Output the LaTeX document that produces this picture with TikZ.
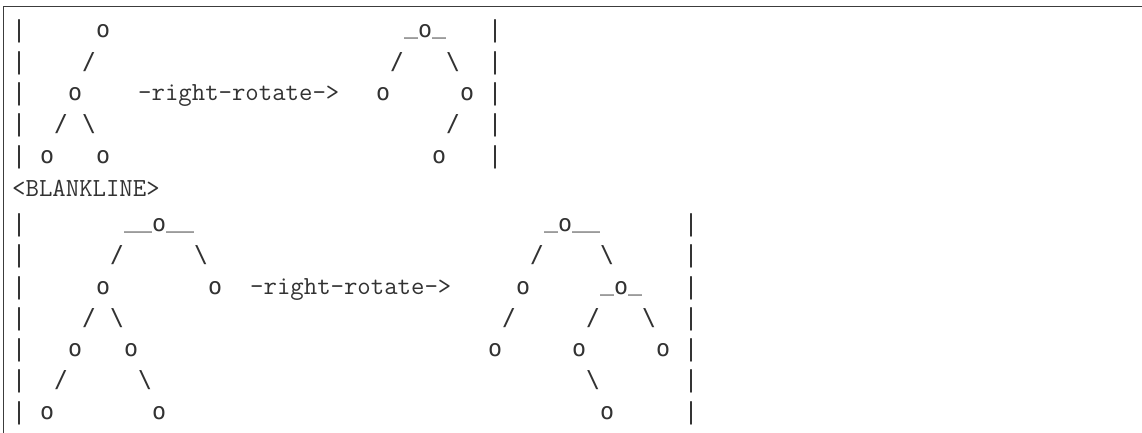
\documentclass[tikz,border=0pt]{standalone}
\usepackage{fontspec}
\newfontfamily\artfont{DejaVu Sans Mono}
\definecolor{ink}{RGB}{50,50,50}
\definecolor{framec}{RGB}{60,60,60}
\tikzset{
  art/.style={inner sep=0pt, outer sep=0pt, anchor=base, text=ink, font=\artfont\fontsize{23.26}{28}\selectfont},
  words/.style={inner sep=0pt, outer sep=0pt, anchor=base west, text=ink, font=\ttfamily\fontsize{26.04}{30}\selectfont},
  frameline/.style={draw=framec, line width=1.6pt}
}
\newcommand\rowy[1]{\pgfmathsetmacro\yy{(#1<6) ? (38+31.25*(#1-1)) : (294.2+31.25*(#1-9))}}
\begin{document}
\begin{tikzpicture}[x=1pt,y=-1pt]
\useasboundingbox (0,0) rectangle (1142,433);
\fill[white] (0,0) rectangle (1142,433);
% frame (top and left edges of the box)
\draw[frameline] (1142,6.7) -- (3.5,6.7) -- (3.5,433);
% vertical bars
\foreach \r/\c in {1/0,2/0,3/0,4/0,5/0,1/34,2/34,3/34,4/34,5/34,
  7/0,8/0,9/0,10/0,11/0,12/0,13/0,7/48,8/48,9/48,10/48,11/48,12/48,13/48}{
  \rowy{\r}
  \node[art] (bar\r-\c) at ({19.2+14*\c},\yy) {\textbar};
}
% tree nodes
\foreach \r/\c in {1/6,1/29,3/4,3/26,3/32,5/2,5/6,5/30,
  7/10,7/39,9/6,9/14,9/36,9/43,11/4,11/8,11/34,11/40,11/46,13/2,13/10,13/42}{
  \rowy{\r}
  \node[art] (o\r-\c) at ({19.2+14*\c},\yy) {o};
}
% slashes
\foreach \r/\c in {2/5,2/27,4/3,4/31,8/7,8/37,10/5,10/35,10/41,12/3}{
  \rowy{\r}
  \node[art] (sl\r-\c) at ({19.2+14*\c},\yy) {/};
}
% backslashes
\foreach \r/\c in {2/31,4/5,8/13,8/42,10/7,10/45,12/9,12/41}{
  \rowy{\r}
  \node[art] (bs\r-\c) at ({19.2+14*\c},\yy) {\textbackslash};
}
% underscores
\foreach \r/\c in {1/28,1/30,7/8,7/9,7/11,7/12,7/38,7/40,7/41,9/42,9/44}{
  \rowy{\r}
  \node[art] (us\r-\c) at ({19.2+14*\c},{\yy-4}) {\_};
}
% words
\node[words] (rot1) at (138.2,100.5) {-right-rotate->};
\node[words] (blank) at (12.2,196.7) {<BLANKLINE>};
\node[words] (rot2) at (250.2,294.2) {-right-rotate->};
\end{tikzpicture}
\end{document}
